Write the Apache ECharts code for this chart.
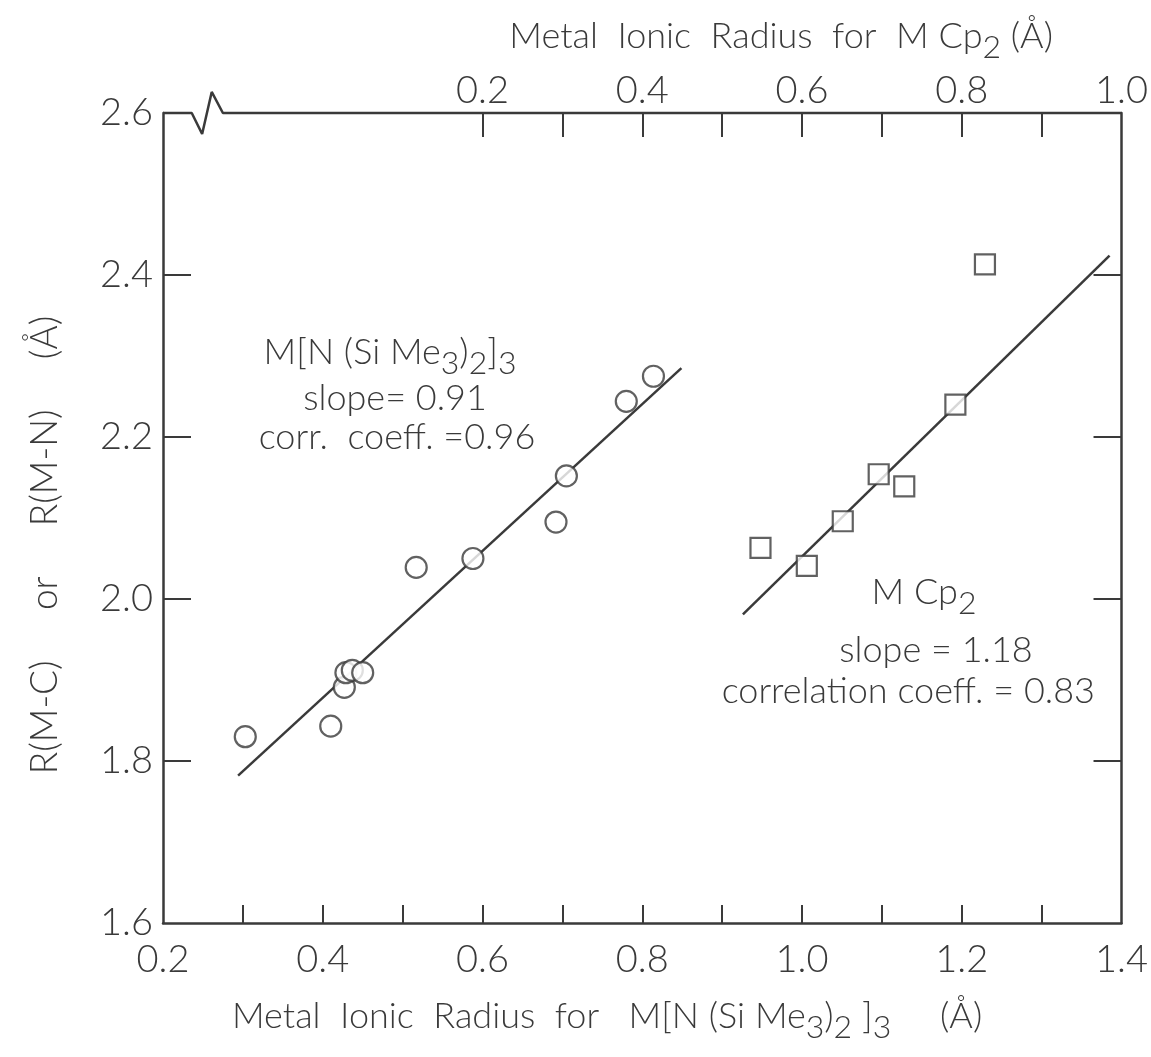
<!DOCTYPE html>
<html>
<head>
<meta charset="utf-8">
<script src="https://cdn.jsdelivr.net/npm/echarts@6/dist/echarts.min.js"></script>
<style>
html, body { margin: 0; background: #fff; }
#chart { width: 1151px; height: 1057px; }
</style>
</head>
<body>
<div id="chart"></div>
<script>
// M[N(SiMe3)2]3 : metal ionic radius (bottom axis) vs R(M-N)
const amideRadius = [0.303, 0.410, 0.427, 0.429, 0.437, 0.450, 0.517, 0.588, 0.692, 0.705, 0.780, 0.814];
const amideDist   = [1.830, 1.843, 1.891, 1.909, 1.912, 1.909, 2.039, 2.050, 2.095, 2.152, 2.244, 2.275];
// MCp2 : metal ionic radius (top axis) vs R(M-C)
const cpRadius = [0.548, 0.606, 0.651, 0.696, 0.728, 0.792, 0.829];
const cpDist   = [2.063, 2.041, 2.096, 2.154, 2.139, 2.240, 2.413];
// least squares lines, end points
const amideFit = [[0.294, 1.782], [0.849, 2.285]];
const cpFit    = [[0.526, 1.981], [0.985, 2.424]];
// axis ticks / labels
const bottomLabels = [0.2, 0.4, 0.6, 0.8, 1.0, 1.2, 1.4];
const bottomTicks  = [0.3, 0.4, 0.5, 0.6, 0.7, 0.8, 0.9, 1.0, 1.1, 1.2, 1.3];
const topLabels = [0.2, 0.4, 0.6, 0.8, 1.0];
const topTicks  = [0.2, 0.3, 0.4, 0.5, 0.6, 0.7, 0.8, 0.9];
const yLabels = [1.6, 1.8, 2.0, 2.2, 2.4, 2.6];
const yTicks  = [1.8, 2.0, 2.2, 2.4];
// top frame line with the axis break mark (bottom-axis units)
const breakPath = [[0.2, 2.6], [0.236, 2.6], [0.249, 2.574], [0.261, 2.626], [0.275, 2.6], [1.4, 2.6]];

const ink = '#3a3a3a';
const font = "Lato, 'DejaVu Sans', sans-serif";

let myChart = echarts.init(document.getElementById('chart'));

function fmt(v) { return Number(v).toFixed(1); }

const labelStyle = { color: ink, fontSize: 38, fontFamily: font, fontWeight: 300 };
const txt = { fill: ink, fontSize: 36, fontFamily: font, fontWeight: 300 };
const sub = { fontSize: 32, fontFamily: font, fontWeight: 300, padding: [24, 0, 0, 0] };
const plain = { fill: ink, fontSize: 36, fontFamily: font, fontWeight: 300, verticalAlign: 'middle' };

option = {
  animation: false,
  backgroundColor: '#fff',
  grid: { left: 163, right: 26, top: 113, bottom: 134 },
  xAxis: [
    {
      type: 'value', position: 'bottom', min: 0.2, max: 1.4, interval: 0.1,
      axisLine: { show: true, onZero: false, lineStyle: { color: ink, width: 2.5 } },
      axisTick: { inside: true, length: 18, customValues: bottomTicks, lineStyle: { color: ink, width: 2 } },
      axisLabel: Object.assign({ customValues: bottomLabels, formatter: fmt, margin: 18 }, labelStyle),
      splitLine: { show: false }
    },
    {
      type: 'value', position: 'top', min: -0.2, max: 1.0, interval: 0.1,
      axisLine: { show: false, onZero: false },
      axisTick: { show: true, inside: true, length: 24, customValues: topTicks, lineStyle: { color: ink, width: 2 } },
      axisLabel: Object.assign({ customValues: topLabels, formatter: fmt, margin: 3 }, labelStyle),
      splitLine: { show: false }
    }
  ],
  yAxis: [
    {
      type: 'value', position: 'left', min: 1.6, max: 2.6, interval: 0.2,
      axisLine: { show: true, onZero: false, lineStyle: { color: ink, width: 2.5 } },
      axisTick: { inside: true, length: 28, customValues: yTicks, lineStyle: { color: ink, width: 2 } },
      axisLabel: Object.assign({ customValues: yLabels, formatter: fmt, margin: 10 }, labelStyle),
      splitLine: { show: false }
    },
    {
      type: 'value', position: 'right', min: 1.6, max: 2.6, interval: 0.2,
      axisLine: { show: true, onZero: false, lineStyle: { color: ink, width: 2.5 } },
      axisTick: { inside: true, length: 28, customValues: yTicks, lineStyle: { color: ink, width: 2 } },
      axisLabel: { show: false },
      splitLine: { show: false }
    }
  ],
  graphic: [
    { type: 'text', right: 1151 - 1053, top: 18,
      style: { text: '{a|Metal  Ionic  Radius  for  M Cp}{s|2}{a| (Å)}',
        rich: { a: txt, s: sub }, fill: ink } },
    { type: 'text', left: 232, top: 998,
      style: { text: '{a|Metal  Ionic  Radius  for   M[N (Si Me}{s|3}{a|)}{s|2}{a| ]}{s|3}{a|     (Å)}',
        rich: { a: txt, s: sub }, fill: ink } },
    { type: 'text', x: 45, y: 545, rotation: Math.PI / 2,
      style: Object.assign({ text: 'R(M-C)     or     R(M-N)     (Å)', align: 'center' }, plain, { fontSize: 37 }) },
    { type: 'text', x: 390, y: 352,
      style: { text: '{a|M[N (Si Me}{s|3}{a|)}{s|2}{a|]}{s|3}', rich: { a: txt, s: sub },
        align: 'center', verticalAlign: 'middle', fill: ink } },
    { type: 'text', x: 395, y: 398,
      style: Object.assign({ text: 'slope= 0.91', align: 'center' }, plain) },
    { type: 'text', x: 397, y: 437,
      style: Object.assign({ text: 'corr.  coeff. =0.96', align: 'center' }, plain) },
    { type: 'text', x: 924, y: 592,
      style: { text: '{a|M Cp}{s|2}', rich: { a: txt, s: sub },
        align: 'center', verticalAlign: 'middle', fill: ink } },
    { type: 'text', x: 936, y: 650,
      style: Object.assign({ text: 'slope = 1.18', align: 'center' }, plain) },
    { type: 'text', x: 1095, y: 691,
      style: Object.assign({ text: 'correlation coeff. = 0.83', align: 'right' }, plain) }
  ],
  series: [
    {
      name: 'frame', type: 'line', xAxisIndex: 0, yAxisIndex: 0,
      data: breakPath, symbol: 'none', clip: false, silent: true,
      lineStyle: { color: ink, width: 2.5 }, z: 1
    },
    {
      name: 'amide fit', type: 'line', xAxisIndex: 0, yAxisIndex: 0,
      data: amideFit, symbol: 'none',
      lineStyle: { color: ink, width: 2.5 }, z: 2
    },
    {
      name: 'Cp fit', type: 'line', xAxisIndex: 1, yAxisIndex: 0,
      data: cpFit, symbol: 'none',
      lineStyle: { color: ink, width: 2.5 }, z: 2
    },
    {
      name: 'M[N(SiMe3)2]3', type: 'scatter', xAxisIndex: 0, yAxisIndex: 0,
      data: amideRadius.map((r, i) => [r, amideDist[i]]),
      symbol: 'circle', symbolSize: 21,
      itemStyle: { color: '#fff', borderColor: ink, borderWidth: 2.2 }, z: 3
    },
    {
      name: 'MCp2', type: 'scatter', xAxisIndex: 1, yAxisIndex: 0,
      data: cpRadius.map((r, i) => [r, cpDist[i]]),
      symbol: 'rect', symbolSize: 20,
      itemStyle: { color: '#fff', borderColor: ink, borderWidth: 2.2 }, z: 3
    }
  ]
};

myChart.setOption(option);
</script>
</body>
</html>
